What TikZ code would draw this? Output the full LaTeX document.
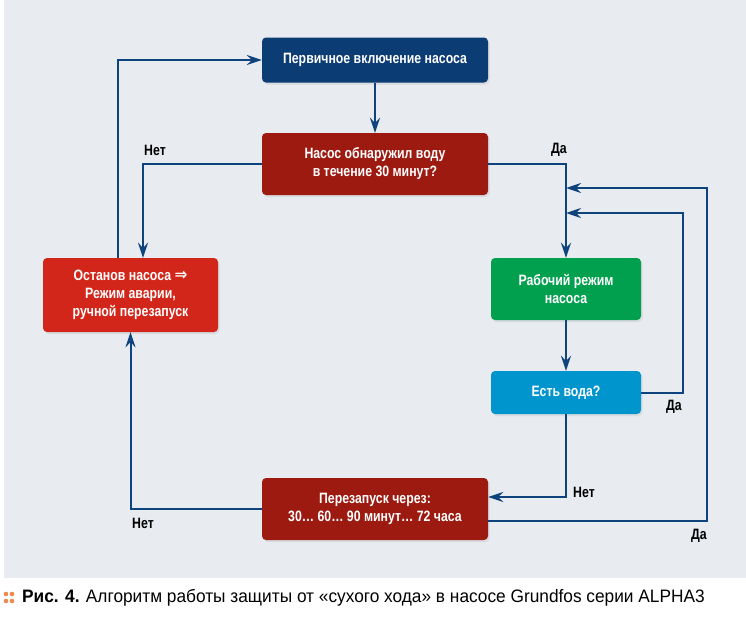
\documentclass[tikz,border=0pt]{standalone}
\usepackage{fontspec}
\setmainfont{Liberation Sans}[FakeStretch=0.82]
\newfontfamily\captionfont{Liberation Sans}[FakeStretch=0.96]
\newfontfamily\arrowfont{DejaVu Sans}[FakeStretch=0.9]
\usetikzlibrary{arrows.meta,shadows}
\definecolor{panelgray}{HTML}{E8ECF1}
\definecolor{navybox}{HTML}{0B3C74}
\definecolor{darkred}{HTML}{9C1A10}
\definecolor{alarmred}{HTML}{D3261A}
\definecolor{runsgreen}{HTML}{00A04E}
\definecolor{waterblue}{HTML}{0095CC}
\definecolor{linkblue}{HTML}{0F437D}
\definecolor{dotorange}{HTML}{F0894E}
\tikzset{
	box/.style={fill=#1,rounded corners=4pt,text=white,align=center,inner sep=0pt,
		font=\bfseries\fontsize{15}{18}\selectfont,
		drop shadow={shadow xshift=1.5pt,shadow yshift=-2pt,opacity=0.15}},
	flow/.style={draw=linkblue,line width=2pt,-{Stealth[length=15pt,width=10pt,inset=5pt]}},
	answer/.style={font=\bfseries\fontsize{15}{18}\selectfont}
}
\begin{document}
\begin{tikzpicture}[x=1pt,y=-1pt]
	\useasboundingbox (0,0) rectangle (746,621);
	\fill[panelgray] (4,0) rectangle (746,578);
	\node[box=navybox,minimum width=226pt,minimum height=45pt] (start) at (375,60) {Первичное включение насоса};
	\node[box=darkred,minimum width=226pt,minimum height=62pt] (check) at (375,164) {Насос обнаружил воду\\в течение 30 минут?};
	\node[box=alarmred,minimum width=175pt,minimum height=74pt] (stop) at (130.5,295) {Останов насоса {\arrowfont\bfseries\fontsize{17}{18}\selectfont ⇒}\\Режим аварии,\\ручной перезапуск};
	\node[box=runsgreen,minimum width=150pt,minimum height=62pt] (run) at (566,289) {Рабочий режим\\насоса};
	\node[box=waterblue,minimum width=150pt,minimum height=43pt] (water) at (566,392.5) {Есть вода?};
	\node[box=darkred,minimum width=226pt,minimum height=62pt] (restart) at (375,509) {Перезапуск через:\\30… 60… 90 минут… 72 часа};
	\coordinate (J1) at (566,213);
	\coordinate (J2) at (566,188);
	\draw[flow] (start) -- (check);
	\draw[flow] (check.west) -| ([xshift=12.5pt]stop.north);
	\draw[flow] (check.east) -| (run.north);
	\draw[flow] ([xshift=-12.5pt]stop.north) |- (start.west);
	\draw[flow] (run) -- (water);
	\draw[flow] (water.east) -- ++(42,0) |- (J1);
	\draw[flow] (water.south) |- ([yshift=12pt]restart.east);
	\draw[flow] ([yshift=-12pt]restart.east) -- ++(219,0) |- (J2);
	\draw[flow] (restart.west) -| (stop.south);
	\node[answer] (no1) at (155,150) {Нет};
	\node[answer] (yes1) at (559,150) {Да};
	\node[answer] (yes2) at (674,407) {Да};
	\node[answer] (no2) at (584,492) {Нет};
	\node[answer] (yes3) at (699,536) {Да};
	\node[answer] (no3) at (143,523) {Нет};
	\foreach \dx in {6,12}
		\foreach \dy in {594,601}
			\fill[dotorange] (\dx,\dy) circle (2.3);
	\node[anchor=west,inner sep=0pt,font=\captionfont\fontsize{18}{20}\selectfont] (caption) at (22,598) {\textbf{Рис. 4.} Алгоритм работы защиты от «сухого хода» в насосе Grundfos серии ALPHA3};
\end{tikzpicture}
\end{document}
